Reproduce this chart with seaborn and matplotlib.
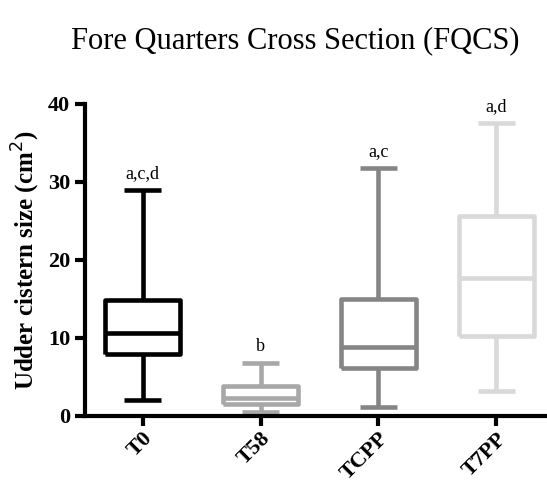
import pandas as pd
import seaborn as sns
import matplotlib.pyplot as plt

groups = ['T0', 'T58', 'TCPP', 'T7PP']
# five-number summaries: min, Q1, median, Q3, max
t0 = [2.0, 7.9, 10.6, 14.8, 29.0]
t58 = [0.5, 1.6, 2.3, 3.8, 6.8]
tcpp = [1.1, 6.1, 8.9, 15.0, 31.8]
t7pp = [3.2, 10.2, 17.7, 25.6, 37.6]
letters = ['a,c,d', 'b', 'a,c', 'a,d']
colors = ['#000000', '#a8a8a8', '#858585', '#d9d9d9']

df = pd.DataFrame({
    'group': [g for g in groups for _ in range(5)],
    'size': t0 + t58 + tcpp + t7pp,
})

sns.set_style('ticks')
plt.rcParams['font.family'] = ['Liberation Serif', 'DejaVu Serif']
plt.rcParams['text.color'] = 'black'
plt.rcParams['axes.labelcolor'] = 'black'
plt.rcParams['xtick.color'] = 'black'
plt.rcParams['ytick.color'] = 'black'
plt.rcParams['axes.edgecolor'] = 'black'

fig = plt.figure(figsize=(5.47, 4.84), dpi=100)
ax = fig.add_axes([0.155, 0.1405, 0.841, 0.645])

lw = 3.3
sns.boxplot(data=df, x='group', y='size', order=groups, hue='group',
            hue_order=groups, palette=colors, legend=False, whis=(0, 100),
            width=0.64, fill=False, linewidth=lw, ax=ax)

for ln in ax.lines:
    ln.set_solid_capstyle('butt')

tops = [max(v) for v in [t0, t58, tcpp, t7pp]]
for i, (t, lab) in enumerate(zip(tops, letters)):
    ax.text(i, t + 1.0, lab, ha='center', va='bottom', fontsize=13)

ax.set_ylim(0, 40)
ax.set_xlim(-0.49, 3.41)
ax.set_yticks([0, 10, 20, 30, 40])
ax.set_xlabel('')
ax.set_ylabel('Udder cistern size (cm$^2$)', fontsize=18, fontweight='bold')
ax.tick_params(axis='both', width=3, length=7, labelsize=16)
ax.tick_params(axis='x', pad=2)
for lab in ax.get_yticklabels():
    lab.set_fontweight('bold')
for lab in ax.get_xticklabels():
    lab.set_fontweight('bold')
    lab.set_rotation(45)
    lab.set_ha('right')
    lab.set_rotation_mode('anchor')
sns.despine(ax=ax)
ax.spines['left'].set_linewidth(3)
ax.spines['bottom'].set_linewidth(3)

fig.text(0.54, 0.915, 'Fore Quarters Cross Section (FQCS)', ha='center',
         va='center', fontsize=22)

fig.savefig('out.png', dpi=100)
